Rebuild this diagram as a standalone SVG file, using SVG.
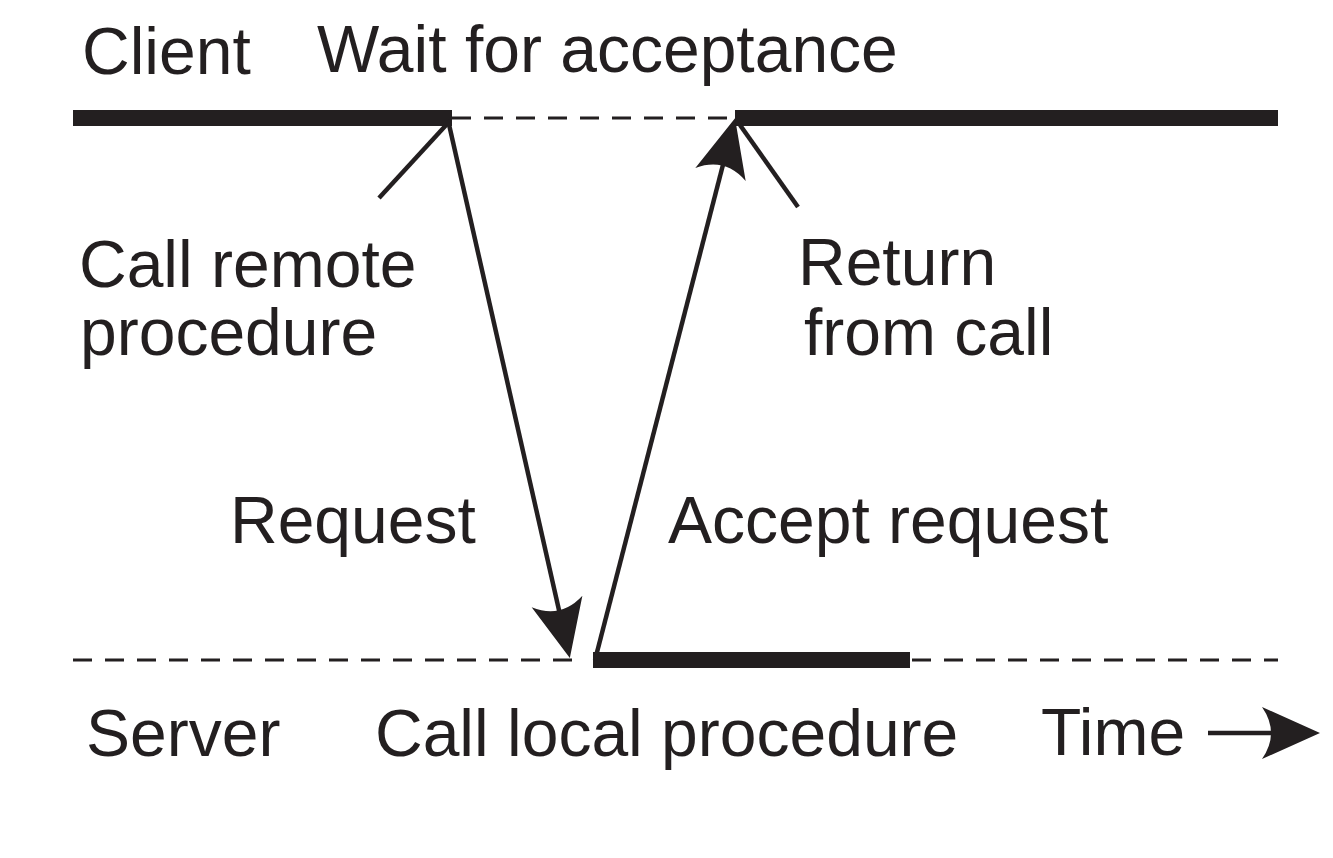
<svg xmlns="http://www.w3.org/2000/svg" width="1333" height="858" viewBox="0 0 1333 858">
<style>
.lbl{font-family:"Liberation Sans",Arial,Helvetica,sans-serif;font-size:66px;fill:#231f20}
.bar{stroke:#231f20;stroke-width:16;fill:none}
.dash{stroke:#231f20;stroke-width:3;stroke-dasharray:19 13;fill:none}
.thin{stroke:#231f20;stroke-width:4.5;fill:none}
.msg{stroke:#231f20;stroke-width:4.5;fill:none;marker-end:url(#ah)}
</style>
<defs>
<marker id="ah" viewBox="-20 -28 64 56" refX="0" refY="0" markerWidth="64" markerHeight="56" markerUnits="userSpaceOnUse" orient="auto">
<path d="M40,0 L-18,-26 Q0,0 -18,26 Z" fill="#231f20"/>
</marker>
</defs>
<rect width="1333" height="858" fill="#ffffff"/>
<g id="client">
<line class="bar" x1="73" y1="118" x2="452" y2="118"/>
<line class="dash" x1="452" y1="118" x2="735" y2="118"/>
<line class="bar" x1="735" y1="118" x2="1278" y2="118"/>
<text class="lbl" x="82" y="74">Client</text>
<text class="lbl" x="317" y="72">Wait for acceptance</text>
</g>
<g id="server">
<line class="dash" x1="73" y1="660" x2="579" y2="660"/>
<line class="bar" x1="593" y1="660" x2="910" y2="660"/>
<line class="dash" x1="912" y1="660" x2="1278" y2="660"/>
<text class="lbl" x="86" y="756">Server</text>
<text class="lbl" x="375" y="756">Call local procedure</text>
</g>
<g id="notes">
<text class="lbl" x="79" y="287">Call remote</text>
<text class="lbl" x="80" y="355">procedure</text>
<text class="lbl" x="798" y="285">Return</text>
<text class="lbl" x="804" y="355">from call</text>
<text class="lbl" x="230" y="543">Request</text>
<text class="lbl" x="668" y="543">Accept request</text>
</g>
<g id="time">
<text class="lbl" x="1041" y="755">Time</text>
</g>
<g id="connectors">
<line class="thin" x1="379" y1="198" x2="448" y2="123"/>
<line class="thin" x1="740" y1="125" x2="798" y2="207"/>
<line class="msg" x1="448" y1="120" x2="561" y2="619"/>
<line class="msg" x1="595" y1="660" x2="725" y2="157"/>
<line class="msg" x1="1208" y1="733" x2="1280" y2="733"/>
</g>
</svg>
